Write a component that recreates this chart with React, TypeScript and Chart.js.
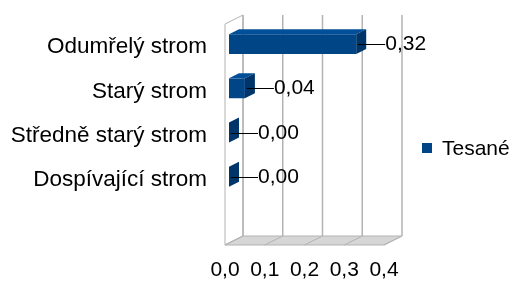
import React, { useEffect, useRef } from 'react';
import { Chart, registerables } from 'chart.js';

Chart.register(...registerables);

const categories = ['Odumřelý strom', 'Starý strom', 'Středně starý strom', 'Dospívající strom', ''];
const values: (number | null)[] = [0.32, 0.04, 0.0, 0.0, null];
const seriesName = 'Tesané';
const xTicks = [0, 0.1, 0.2, 0.3, 0.4];

const FONT = "'Liberation Sans', Arial, sans-serif";
const C_FRONT = '#004586';
const C_TOP = '#004f98';
const C_SIDE = '#00356a';
const C_GRID = '#b3b3b3';
const C_FLOOR = '#d6d6d6';

// 3D offsets
const BACK = { dx: 14, dy: -7 };
const FRONT = { dx: -4, dy: 2 };
const BAR_D = { dx: 10, dy: 5 };

const fmt2 = (v: number) => v.toFixed(2).replace('.', ',');
const fmt1 = (v: number) => v.toFixed(1).replace('.', ',');

const frame3d = {
  id: 'frame3d',
  beforeDatasetsDraw(chart: any) {
    const { ctx, chartArea: a, scales } = chart;
    const x = scales.x;
    const left = x.getPixelForValue(xTicks[0]);
    const right = x.getPixelForValue(xTicks[xTicks.length - 1]);
    ctx.save();
    ctx.lineWidth = 1;
    ctx.strokeStyle = C_GRID;
    // left wall
    ctx.beginPath();
    ctx.moveTo(left + FRONT.dx, a.top + FRONT.dy);
    ctx.lineTo(left + BACK.dx, a.top + BACK.dy);
    ctx.lineTo(left + BACK.dx, a.bottom + BACK.dy);
    ctx.lineTo(left + FRONT.dx, a.bottom + FRONT.dy);
    ctx.closePath();
    ctx.fillStyle = '#ffffff';
    ctx.fill();
    ctx.stroke();
    // floor
    ctx.beginPath();
    ctx.moveTo(left + FRONT.dx, a.bottom + FRONT.dy);
    ctx.lineTo(left + BACK.dx, a.bottom + BACK.dy);
    ctx.lineTo(right + BACK.dx, a.bottom + BACK.dy);
    ctx.lineTo(right + FRONT.dx, a.bottom + FRONT.dy);
    ctx.closePath();
    ctx.fillStyle = C_FLOOR;
    ctx.fill();
    ctx.stroke();
    // grid lines on back wall and floor
    for (const v of xTicks) {
      const px = x.getPixelForValue(v);
      ctx.lineWidth = 1.5;
      ctx.beginPath();
      ctx.moveTo(px + BACK.dx, a.top + BACK.dy);
      ctx.lineTo(px + BACK.dx, a.bottom + BACK.dy);
      ctx.stroke();
      ctx.lineWidth = 1;
      ctx.beginPath();
      ctx.moveTo(px + BACK.dx, a.bottom + BACK.dy);
      ctx.lineTo(px + FRONT.dx, a.bottom + FRONT.dy);
      ctx.stroke();
    }
    ctx.restore();
  },
  afterDatasetsDraw(chart: any) {
    const { ctx } = chart;
    const meta = chart.getDatasetMeta(0);
    ctx.save();
    meta.data.forEach((bar: any, i: number) => {
      const v = values[i];
      if (v === null || v === undefined) return;
      const p = bar.getProps(['x', 'y', 'base', 'height'], true);
      const top = p.y - p.height / 2;
      const bottom = p.y + p.height / 2;
      const end = p.x;
      const base = p.base;
      // top face
      ctx.beginPath();
      ctx.moveTo(base, top);
      ctx.lineTo(end, top);
      ctx.lineTo(end + BAR_D.dx, top - BAR_D.dy);
      ctx.lineTo(base + BAR_D.dx, top - BAR_D.dy);
      ctx.closePath();
      ctx.fillStyle = C_TOP;
      ctx.fill();
      // side face
      ctx.beginPath();
      ctx.moveTo(end, top);
      ctx.lineTo(end + BAR_D.dx, top - BAR_D.dy);
      ctx.lineTo(end + BAR_D.dx, bottom - BAR_D.dy);
      ctx.lineTo(end, bottom);
      ctx.closePath();
      ctx.fillStyle = C_SIDE;
      ctx.fill();
      // data label with leader line
      const ly = Math.round(p.y) + 0.5;
      ctx.beginPath();
      ctx.strokeStyle = '#000000';
      ctx.lineWidth = 1;
      ctx.moveTo(end + 2, ly);
      ctx.lineTo(end + 29, ly);
      ctx.stroke();
      ctx.fillStyle = '#000000';
      ctx.font = `21px ${FONT}`;
      ctx.textAlign = 'left';
      ctx.textBaseline = 'middle';
      ctx.fillText(fmt2(v), end + 29, ly);
    });
    ctx.restore();
  },
  afterDraw(chart: any) {
    const { ctx } = chart;
    ctx.save();
    ctx.fillStyle = C_FRONT;
    ctx.fillRect(422, 143, 10, 10);
    ctx.fillStyle = '#000000';
    ctx.font = `21px ${FONT}`;
    ctx.textAlign = 'left';
    ctx.textBaseline = 'middle';
    ctx.fillText(seriesName, 442, 149);
    ctx.restore();
  },
};

export default function App() {
  const ref = useRef<HTMLCanvasElement | null>(null);
  useEffect(() => {
    document.body.style.margin = '0';
    const canvas = ref.current;
    if (!canvas) return;
    const chart = new Chart(canvas, {
      type: 'bar',
      data: {
        labels: categories,
        datasets: [
          {
            label: seriesName,
            data: values as any,
            backgroundColor: C_FRONT,
            borderWidth: 0,
            barPercentage: 0.45,
            categoryPercentage: 1,
          },
        ],
      },
      options: {
        indexAxis: 'y',
        animation: false,
        responsive: false,
        maintainAspectRatio: false,
        layout: { padding: { top: 22, right: 128, left: 0, bottom: 0 } },
        plugins: { legend: { display: false }, tooltip: { enabled: false } },
        scales: {
          x: {
            min: 0,
            max: 0.4,
            grid: { display: false, drawTicks: false },
            border: { display: false },
            afterBuildTicks: (s: any) => {
              s.ticks = xTicks.map((v) => ({ value: v }));
            },
            afterFit: (s: any) => {
              s.height = 39;
              s.paddingLeft = 0;
              s.paddingRight = 0;
            },
            ticks: {
              font: { family: FONT, size: 21 },
              color: '#000000',
              padding: 15,
              labelOffset: -4,
              maxRotation: 0,
              autoSkip: false,
              callback: (v: any) => fmt1(Number(v)),
            },
          },
          y: {
            grid: { display: false, drawTicks: false },
            border: { display: false },
            afterFit: (s: any) => {
              s.width = 229;
              s.paddingTop = 0;
              s.paddingBottom = 0;
            },
            ticks: {
              font: { family: FONT, size: 22.5 },
              color: '#000000',
              padding: 22,
              labelOffset: 3,
              autoSkip: false,
            },
          },
        },
      },
      plugins: [frame3d],
    });
    return () => chart.destroy();
  }, []);
  return (
    <div style={{ position: 'absolute', left: 0, top: 0, width: 516, height: 282 }}>
      <canvas ref={ref} width={516} height={282} style={{ display: 'block' }} />
    </div>
  );
}
